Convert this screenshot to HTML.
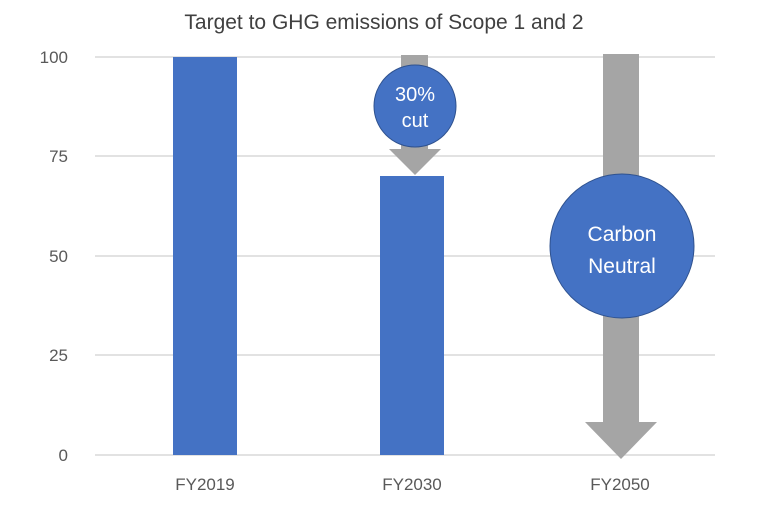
<!DOCTYPE html>
<html><head><style>body{margin:0;background:#fff}</style></head><body>
<svg width="768" height="500" xmlns="http://www.w3.org/2000/svg" font-family="Liberation Sans, sans-serif">
<rect width="768" height="500" fill="#fff"/>
<text x="384" y="29" text-anchor="middle" font-size="21" fill="#404040">Target to GHG emissions of Scope 1 and 2</text>
<g stroke="#d9d9d9" stroke-width="1.5">
<line x1="95" y1="57" x2="715" y2="57"/><line x1="95" y1="156" x2="715" y2="156"/>
<line x1="95" y1="256" x2="715" y2="256"/><line x1="95" y1="355" x2="715" y2="355"/>
<line x1="95" y1="455" x2="715" y2="455"/></g>
<g font-size="17" fill="#595959" text-anchor="end">
<text x="68" y="63">100</text><text x="68" y="162">75</text><text x="68" y="262">50</text><text x="68" y="361">25</text><text x="68" y="461">0</text></g>
<g font-size="17" fill="#595959" text-anchor="middle">
<text x="205" y="490">FY2019</text><text x="412" y="490">FY2030</text><text x="620" y="490">FY2050</text></g>
<rect x="173" y="57" width="64" height="398" fill="#4472c4"/>
<rect x="380" y="176" width="64" height="279" fill="#4472c4"/>
<path d="M401 55H428V149H441L415 175L389 149H401Z" fill="#a5a5a5"/>
<circle cx="415" cy="106" r="41" fill="#4472c4" stroke="#2f528f" stroke-width="1"/>
<text x="415" y="101" text-anchor="middle" font-size="20" fill="#fff">30%</text>
<text x="415" y="127" text-anchor="middle" font-size="20" fill="#fff">cut</text>
<path d="M603 54H639V422H657L621 459L585 422H603Z" fill="#a5a5a5"/>
<circle cx="622" cy="246" r="72" fill="#4472c4" stroke="#2f528f" stroke-width="1"/>
<text x="622" y="241" text-anchor="middle" font-size="21" fill="#fff">Carbon</text>
<text x="622" y="273" text-anchor="middle" font-size="21" fill="#fff">Neutral</text>
</svg>
</body></html>
